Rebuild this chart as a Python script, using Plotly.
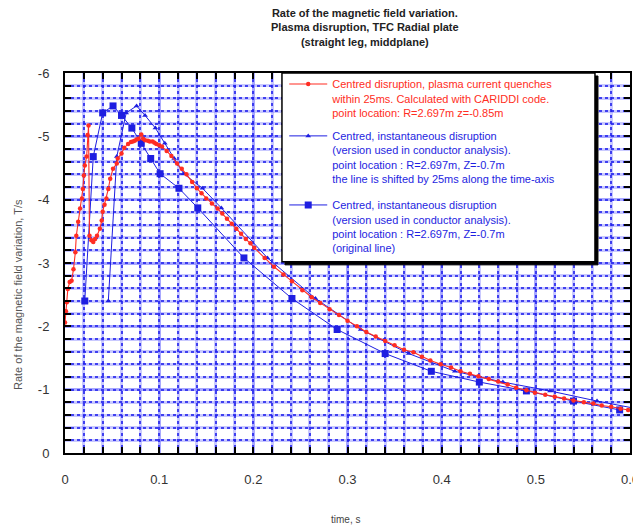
import plotly.graph_objects as go

# ---- data ----
red_t = [0.000, 0.001, 0.002, 0.003, 0.005, 0.007, 0.009, 0.011, 0.012, 0.014, 0.016, 0.018,
         0.019, 0.020, 0.021, 0.023, 0.024, 0.025,
         0.026, 0.028, 0.030, 0.032, 0.034, 0.037, 0.039, 0.040, 0.042, 0.044, 0.046, 0.048,
         0.051, 0.055, 0.056, 0.060, 0.063, 0.067, 0.070, 0.072, 0.074, 0.076, 0.078, 0.081,
         0.083, 0.085, 0.088, 0.090, 0.093, 0.095, 0.097, 0.100, 0.103, 0.108, 0.113, 0.119,
         0.124, 0.129, 0.135, 0.140, 0.145, 0.150, 0.156, 0.162, 0.167, 0.172, 0.177, 0.182,
         0.187, 0.192, 0.197, 0.201, 0.212, 0.222, 0.232, 0.241, 0.252, 0.262, 0.271, 0.281,
         0.291, 0.300, 0.310, 0.320, 0.330, 0.340, 0.350, 0.360, 0.370, 0.379, 0.388, 0.399,
         0.410, 0.420, 0.430, 0.439, 0.450, 0.460, 0.470, 0.479, 0.490, 0.499, 0.510, 0.520,
         0.530, 0.540, 0.551, 0.561, 0.570, 0.580, 0.590, 0.598]
red_v = [-2.06, -2.24, -2.38, -2.59, -2.70, -2.72, -2.90, -3.17, -3.43, -3.65, -3.86, -4.02,
         -4.17, -4.38, -4.54, -4.68, -5.02, -5.17,
         -3.43, -3.36, -3.33, -3.38, -3.43, -3.54, -3.67, -3.81, -3.92, -4.02, -4.17, -4.33,
         -4.49, -4.57, -4.65, -4.73, -4.82, -4.88, -4.91, -4.92, -4.93, -4.95, -4.96, -5.03,
         -4.96, -4.94, -4.93, -4.92, -4.92, -4.90, -4.88, -4.86, -4.84, -4.77, -4.69, -4.57,
         -4.49, -4.40, -4.28, -4.18, -4.10, -4.02, -3.94, -3.86, -3.78, -3.70, -3.62, -3.54,
         -3.46, -3.38, -3.31, -3.24, -3.08, -2.94, -2.82, -2.71, -2.57, -2.46, -2.37, -2.27,
         -2.18, -2.09, -2.00, -1.91, -1.84, -1.77, -1.70, -1.63, -1.59, -1.52, -1.46, -1.40,
         -1.35, -1.29, -1.25, -1.21, -1.17, -1.13, -1.08, -1.03, -0.99, -0.95, -0.92, -0.89,
         -0.86, -0.83, -0.80, -0.78, -0.75, -0.73, -0.70, -0.68]

# instantaneous disruption, original line (squares)
orig_t = [0.021, 0.030, 0.040, 0.051, 0.060, 0.071, 0.081, 0.091, 0.101, 0.121, 0.141,
          0.190, 0.241, 0.289, 0.340, 0.389, 0.440, 0.490, 0.540, 0.589]
orig_v = [-2.40, -4.68, -5.37, -5.48, -5.33, -5.13, -4.89, -4.65, -4.41, -4.18, -3.87,
          -3.08, -2.44, -1.95, -1.57, -1.29, -1.12, -0.98, -0.82, -0.68]

# same disruption, line shifted by 25 ms (triangles)
shift_t = [0.046, 0.055, 0.065, 0.076, 0.085, 0.096, 0.106, 0.116, 0.126, 0.146, 0.166,
           0.215, 0.266, 0.314, 0.365, 0.414, 0.465, 0.515, 0.565, 0.614]
shift_v = [-2.40, -4.68, -5.37, -5.48, -5.33, -5.13, -4.89, -4.65, -4.41, -4.18, -3.87,
           -3.08, -2.44, -1.95, -1.57, -1.29, -1.12, -0.98, -0.82, -0.68]

x_ticks = [0, 0.1, 0.2, 0.3, 0.4, 0.5, 0.6]
x_ticktext = ["0", "0.1", "0.2", "0.3", "0.4", "0.5", "0.6"]
y_ticks = [0, -1, -2, -3, -4, -5, -6]
y_ticktext = ["0", "-1", "-2", "-3", "-4", "-5", "-6"]

title_lines = ["Rate of the magnetic field variation.",
               "Plasma disruption, TFC Radial plate",
               "(straight leg, middplane)"]
name_red = ["Centred disruption, plasma current quenches",
            "within 25ms. Calculated with CARIDDI code.",
            "point location: R=2.697m z=-0.85m"]
name_shift = ["Centred, instantaneous disruption",
              "(version used in conductor analysis).",
              "point location : R=2.697m, Z=-0.7m",
              "the line is shifted by 25ms along the time-axis"]
name_orig = ["Centred, instantaneous disruption",
             "(version used in conductor analysis).",
             "point location : R=2.697m, Z=-0.7m",
             "(original line)"]

RED = "rgb(255,45,35)"
BLUE = "rgb(30,30,225)"
FONT = "Liberation Sans, Arial, sans-serif"

fig = go.Figure()

fig.add_trace(go.Scatter(
    x=orig_t, y=orig_v, mode="lines+markers", legend="legend2",
    name="<span style='color:%s'>%s</span>" % (BLUE, "<br>".join(name_orig)),
    line=dict(color=BLUE, width=1),
    marker=dict(symbol="square", size=7, color=BLUE)))
fig.add_trace(go.Scatter(
    x=shift_t, y=shift_v, mode="lines+markers", legendrank=2, legendgroup="b",
    name="<span style='color:%s'>%s</span>" % (BLUE, "<br>".join(name_shift)),
    line=dict(color=BLUE, width=1),
    marker=dict(symbol="triangle-up", size=5, color=BLUE)))
fig.add_trace(go.Scatter(
    x=red_t, y=red_v, mode="lines+markers", legendrank=1, legendgroup="a",
    name="<span style='color:%s'>%s</span>" % (RED, "<br>".join(name_red)),
    line=dict(color=RED, width=1.1),
    marker=dict(symbol="circle", size=4.5, color=RED)))
# dummy trace for the overlay grid axes
fig.add_trace(go.Scatter(x=[None], y=[None], xaxis="x2", yaxis="y2",
                         showlegend=False, hoverinfo="skip"))

LIGHT = "rgba(120,120,255,0.40)"
DARK = "rgba(30,30,235,0.8)"

legend_common = dict(x=0.388, xanchor="left", yanchor="top",
                     bgcolor="rgba(0,0,0,0)", borderwidth=0,
                     font=dict(size=11, family=FONT), valign="top",
                     itemwidth=38, itemclick=False, itemdoubleclick=False)

fig.update_layout(
    width=633, height=529,
    margin=dict(l=65, r=3, t=73, b=76, autoexpand=False),
    paper_bgcolor="white", plot_bgcolor="white",
    font=dict(family=FONT, color="#333"),
    showlegend=True,
    legend=dict(y=1.007, tracegroupgap=6, **legend_common),
    legend2=dict(y=0.6887, **legend_common),
    xaxis=dict(range=[0, 0.6], tickvals=x_ticks, ticktext=x_ticktext, automargin=False,
               ticks="inside", ticklen=6, tickcolor="black", tickwidth=1.5,
               showline=True, linecolor="black", linewidth=2, mirror="ticks",
               showgrid=True, gridcolor=LIGHT, gridwidth=3, zeroline=False,
               tickfont=dict(size=13, color="#333"), ticklabelstandoff=13,
               ticklabeloverflow="allow",
               minor=dict(dtick=0.02, tick0=0, ticks="inside", ticklen=6,
                          tickcolor="black", tickwidth=1.5,
                          showgrid=True, gridcolor=LIGHT, gridwidth=3)),
    yaxis=dict(range=[0, -6], tickvals=y_ticks, ticktext=y_ticktext, automargin=False,
               ticks="inside", ticklen=6, tickcolor="black", tickwidth=1.5,
               showline=True, linecolor="black", linewidth=2, mirror="ticks",
               showgrid=True, gridcolor=LIGHT, gridwidth=3, zeroline=False,
               tickfont=dict(size=13, color="#333"), ticklabelstandoff=11,
               minor=dict(dtick=0.2, tick0=0, ticks="inside", ticklen=6,
                          tickcolor="black", tickwidth=1.5,
                          showgrid=True, gridcolor=LIGHT, gridwidth=3)),
    xaxis2=dict(overlaying="x", anchor="y2", range=[0, 0.6], dtick=0.02, tick0=0,
                automargin=False,
                showgrid=True, gridcolor=DARK, gridwidth=1.8, griddash="3px,3px",
                showticklabels=False, ticks="", showline=False, zeroline=False),
    yaxis2=dict(overlaying="y", anchor="x2", range=[0, -6], dtick=0.2, tick0=0,
                automargin=False,
                showgrid=True, gridcolor=DARK, gridwidth=1.8, griddash="3px,3px",
                showticklabels=False, ticks="", showline=False, zeroline=False),
)

# legend box with drop shadow
bx0, bx1, by0, by1 = 0.384, 0.938, 0.503, 1.0
dx, dy = 3 / 565, 3 / 380
fig.add_shape(type="rect", xref="paper", yref="paper", layer="above",
              x0=bx0 + dx, x1=bx1 + dx, y0=by0 - dy, y1=by1 - dy,
              fillcolor="black", line=dict(color="black", width=1))
fig.add_shape(type="rect", xref="paper", yref="paper", layer="above",
              x0=bx0, x1=bx1, y0=by0, y1=by1,
              fillcolor="white", line=dict(color="black", width=1.5))

fig.add_annotation(text="<b>" + "<br>".join(title_lines) + "</b>", xref="paper",
                   yref="paper", x=0.531, y=1.0, yshift=68, xanchor="center",
                   yanchor="top", showarrow=False, align="center",
                   font=dict(size=11, color="#222", family=FONT))
fig.add_annotation(text="time, s", xref="paper", yref="paper",
                   x=0.496, y=-0.174, xanchor="center", yanchor="middle",
                   showarrow=False, font=dict(size=10, color="#444", family=FONT))
fig.add_annotation(text="Rate of the magnetic field variation, T/s", xref="paper",
                   yref="paper", x=-0.083, y=0.416, xanchor="center", yanchor="middle",
                   textangle=-90, showarrow=False,
                   font=dict(size=11, color="#555", family=FONT))

fig.write_html("out.html", config={"displayModeBar": False},
               post_script="document.body.style.margin='0';document.body.style.padding='0';")
